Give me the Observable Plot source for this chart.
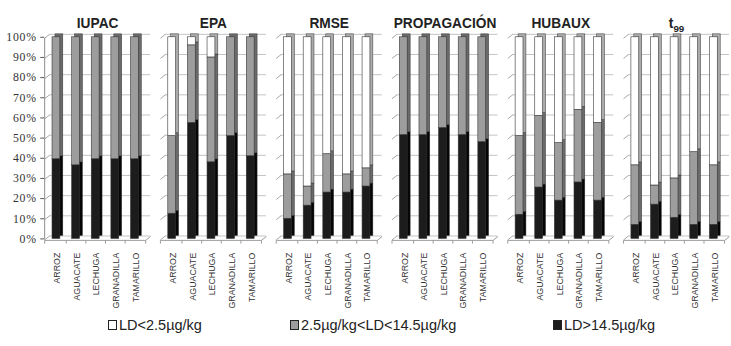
<!DOCTYPE html>
<html><head><meta charset="utf-8">
<script src="https://cdn.jsdelivr.net/npm/d3@7"></script>
<script src="https://cdn.jsdelivr.net/npm/@observablehq/plot@0.6"></script>
<style>
html,body{margin:0;padding:0;background:#fff;overflow:hidden;width:731px;height:346px}
#chart svg{display:block}
#chart svg g[aria-label^="y-axis"] text{font-family:"Liberation Serif","Times New Roman",serif;font-size:12px;letter-spacing:0.8px;fill:#333}
#legend{position:relative;height:24px;font-family:"Liberation Sans",Arial,sans-serif;font-size:14.5px;color:#222}
#legend .item{position:absolute;top:0;white-space:nowrap;line-height:18px}
#legend .sw{display:inline-block;width:7px;height:8px;border:1px solid #222;margin-right:2px;vertical-align:0px}
</style></head><body>
<div id="chart"></div><div id="legend"></div>
<script>
// ---- data ----
const methods = ["IUPAC", "EPA", "RMSE", "PROPAGACIÓN", "HUBAUX", "t99"];
const fruits = ["ARROZ", "AGUACATE", "LECHUGA", "GRANADILLA", "TAMARILLO"];
const series = ["LD<2.5µg/kg", "2.5µg/kg<LD<14.5µg/kg", "LD>14.5µg/kg"];
const yTicks = [0, 10, 20, 30, 40, 50, 60, 70, 80, 90, 100];
// percentage of LD>14.5 (bottom, black) — one row per method
const pctHigh = [
  [39.5, 36.5, 39.5, 39.5, 39.5],
  [12.5, 57.5, 38, 51, 41],
  [10, 16.5, 23, 23, 26],
  [51.5, 51.5, 55, 51.5, 48],
  [12, 25.5, 19, 28, 19],
  [7, 17, 10.5, 7, 7]
];
// percentage of 2.5<LD<14.5 (middle, gray)
const pctMid = [
  [60.5, 63.5, 60.5, 60.5, 60.5],
  [38.5, 38.5, 52, 49, 59],
  [22, 9.5, 19, 9, 9],
  [48.5, 48.5, 45, 48.5, 52],
  [39, 35.5, 28.5, 36, 38.5],
  [29.5, 9.5, 19.5, 36, 29.5]
];
// percentage of LD<2.5 (top, white)
const pctLow = [
  [0, 0, 0, 0, 0],
  [49, 4, 10, 0, 0],
  [68, 74, 58, 68, 65],
  [0, 0, 0, 0, 0],
  [49, 39, 52.5, 36, 42.5],
  [63.5, 73.5, 70, 57, 63.5]
];

// ---- styles ----
const frontColor = ["#ffffff", "#9d9d9d", "#1c1c1c"];   // indexed by series
const sideColor  = ["#ababab", "#6a6a6a", "#050505"];

// stacked rows: black bottom, gray middle, white top
const rows = [];
methods.forEach((m, mi) => fruits.forEach((f, fi) => {
  let base = 0;
  [[2, pctHigh], [1, pctMid], [0, pctLow]].forEach(([s, arr]) => {
    const v = arr[mi][fi];
    if (v > 0) rows.push({method: m, fruit: f, fi, s, y1: base, y2: base + v});
    base += v;
  });
}));

const H = 322, MT = 37.5, MB = 79;
const pxPerPct = (H - MT - MB) / 100;
const depth = 4 / pxPerPct;      // back-wall offset (4px) in % units
const labelY = -14 / pxPerPct;   // category labels 14px below the floor

const chart = Plot.plot({
  width: 745, height: H,
  marginLeft: 45, marginRight: 2, marginTop: MT, marginBottom: MB,
  style: {background: "#fff", fontFamily: "'Liberation Sans', Arial, sans-serif", color: "#555"},
  fx: {domain: methods, paddingInner: 10 / 118, paddingOuter: 0, round: false, axis: null},
  x: {domain: [-0.6, 4.8], axis: null},
  y: {domain: [0, 100], ticks: yTicks, tickFormat: d => d + "%", tickSize: 4, tickPadding: 4, label: null},
  color: {type: "identity"},
  marks: [
    // back wall gridlines
    Plot.ruleY(yTicks, {y: d => d + depth, x1: -0.35, x2: 4.8, stroke: "#c3c3c3", dy: 1}),
    // slanted side-wall ticks
    Plot.link(yTicks, {x1: -0.6, x2: -0.35, y1: d => d, y2: d => d + depth, stroke: "#a5a5a5", dy: 1}),
    // floor
    Plot.link([0], {x1: -0.6, x2: 4.55, y1: 0, y2: 0, stroke: "#9a9a9a", dy: 1.5}),
    Plot.link([0], {x1: 4.55, x2: 4.8, y1: 0, y2: depth, stroke: "#9a9a9a", dy: 1.5}),
    Plot.link([-0.6, 0.5, 1.5, 2.5, 3.5, 4.55], {x1: d => d, x2: d => d, y1: 0, y2: -1.6, stroke: "#9a9a9a", dy: 1.5}),
    // bar side / top faces
    Plot.rect(rows, {fx: "method", x1: d => d.fi - 0.2, x2: d => d.fi + 0.2, y1: "y1", y2: "y2",
      fill: d => sideColor[d.s], stroke: "#333", strokeWidth: 0.5, dx: 3, dy: -3}),
    // bar front faces
    Plot.rect(rows, {fx: "method", x1: d => d.fi - 0.2, x2: d => d.fi + 0.2, y1: "y1", y2: "y2",
      fill: d => frontColor[d.s], stroke: "#333", strokeWidth: 0.6}),
    // left axis line on first panel
    Plot.ruleX([methods[0]], {fx: d => d, x: -0.6, y1: 0, y2: 100, stroke: "#8a8a8a", dy: 1}),
    // panel titles
    Plot.text(methods, {fx: d => d, text: d => d, frameAnchor: "top", dy: -19,
      fontWeight: "bold", fontSize: 14, fill: "#222"}),
    // category labels
    Plot.text(fruits, {x: (d, i) => i + 0.05, y: labelY, text: d => d, rotate: -90, textAnchor: "end",
      fontSize: 9, fill: "#333"})
  ]
});

// subscript for t99 title
chart.querySelectorAll("text").forEach(t => {
  if (t.textContent === "t99") {
    t.textContent = "t";
    const ts = document.createElementNS("http://www.w3.org/2000/svg", "tspan");
    ts.setAttribute("dy", "4");
    ts.setAttribute("font-size", "10");
    ts.textContent = "99";
    t.appendChild(ts);
  }
});
document.getElementById("chart").appendChild(chart);

// legend
const legend = document.getElementById("legend");
const legendX = [108, 290, 553];
series.forEach((s, i) => {
  const it = document.createElement("div");
  it.className = "item";
  it.style.left = legendX[i] + "px";
  const sw = document.createElement("span");
  sw.className = "sw";
  sw.style.background = frontColor[i];
  it.appendChild(sw);
  it.appendChild(document.createTextNode(s));
  legend.appendChild(it);
});
</script>
</body></html>
